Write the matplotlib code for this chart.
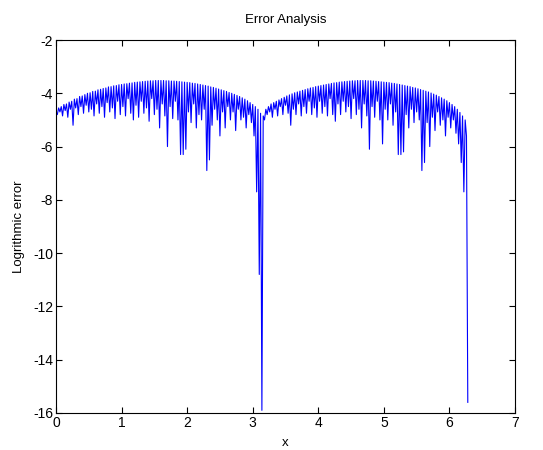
import numpy as np
import matplotlib
matplotlib.use("Agg")
import matplotlib.pyplot as plt

plt.rcParams['font.family'] = ['Liberation Sans', 'DejaVu Sans']

# x positions of the tooth tops (step 0.04) and of the dips between them
x_top = np.round(np.arange(0, 6.2801, 0.04), 2)
x_dip = np.round(np.arange(0.02, 6.2601, 0.04), 2)

top_vals = [
    -4.75, -4.55, -4.5, -4.42, -4.4, -4.33, -4.3, -4.22, -4.2, -4.12,
    -4.1, -4.05, -4.0, -3.98, -3.93, -3.92, -3.87, -3.85, -3.82, -3.8,
    -3.76, -3.75, -3.72, -3.71, -3.68, -3.67, -3.65, -3.64, -3.62, -3.61,
    -3.59, -3.58, -3.57, -3.56, -3.55, -3.54, -3.53, -3.53, -3.52, -3.52,
    -3.52, -3.52, -3.53, -3.53, -3.54, -3.54, -3.55, -3.56, -3.57, -3.58,
    -3.59, -3.6, -3.62, -3.63, -3.65, -3.67, -3.69, -3.71, -3.73, -3.76,
    -3.78, -3.81, -3.84, -3.87, -3.9, -3.93, -3.97, -4.0, -4.04, -4.08,
    -4.12, -4.17, -4.22, -4.28, -4.35, -4.42, -4.5, -4.6, -4.75,
    -4.85, -4.6, -4.5, -4.4, -4.35, -4.3, -4.25, -4.2, -4.15, -4.1,
    -4.06, -4.02, -3.98, -3.95, -3.92, -3.89, -3.86, -3.83, -3.8, -3.78,
    -3.75, -3.73, -3.71, -3.69, -3.67, -3.65, -3.63, -3.61, -3.6, -3.58,
    -3.57, -3.56, -3.55, -3.54, -3.53, -3.53, -3.52, -3.52, -3.52, -3.52,
    -3.53, -3.53, -3.54, -3.55, -3.56, -3.57, -3.58, -3.59, -3.6, -3.62,
    -3.63, -3.65, -3.67, -3.69, -3.71, -3.73, -3.75, -3.78, -3.8, -3.83,
    -3.86, -3.89, -3.92, -3.95, -3.99, -4.03, -4.07, -4.12, -4.17, -4.22,
    -4.28, -4.35, -4.42, -4.5, -4.6, -4.72, -4.85, -5.0, -15.6,
]

dip_vals = [
    -4.8, -4.7, -4.85, -4.65, -4.9, -4.6, -5.2, -4.55, -4.8, -4.5,
    -4.75, -4.45, -4.7, -4.6, -4.85, -4.4, -4.75, -4.5, -4.9, -4.35,
    -4.7, -4.55, -4.95, -4.3, -4.8, -4.5, -4.85, -4.2, -4.75, -5.0,
    -4.45, -4.9, -4.3, -4.75, -4.55, -5.05, -4.2, -4.8, -4.6, -5.3,
    -4.4, -4.85, -6.0, -4.5, -4.95, -4.3, -5.0, -6.3, -6.3, -6.1,
    -4.7, -5.1, -4.4, -5.3, -4.8, -5.0, -4.6, -6.9, -6.5, -5.2,
    -4.6, -5.0, -5.6, -4.7, -5.3, -4.5, -5.0, -4.7, -5.4, -4.6,
    -5.0, -4.9, -5.3, -4.8, -5.1, -5.6, -7.7, -10.8, -15.9,
    -5.0, -4.8, -4.7, -4.9, -4.6, -4.85, -4.5, -4.8, -4.45, -4.75,
    -5.2, -4.6, -4.8, -4.4, -4.85, -4.5, -4.75, -4.3, -4.8, -4.55,
    -4.9, -4.3, -4.75, -4.5, -4.85, -4.2, -4.8, -5.05, -4.4, -4.8,
    -4.3, -4.7, -4.5, -4.95, -4.2, -4.8, -4.6, -5.3, -4.4, -4.85,
    -6.1, -4.5, -4.9, -4.3, -5.0, -5.9, -4.6, -5.0, -4.4, -5.2,
    -4.7, -6.3, -6.3, -6.2, -4.8, -5.3, -4.6, -5.1, -4.7, -5.0,
    -6.9, -6.6, -5.1, -6.0, -4.9, -5.4, -4.7, -5.2, -5.0, -5.6,
    -4.9, -5.3, -5.0, -5.5, -5.9, -6.6, -7.7, -5.6,
]

x_ticks = [0, 1, 2, 3, 4, 5, 6, 7]
y_ticks = [-16, -14, -12, -10, -8, -6, -4, -2]

# interleave tops and dips into one polyline
n = len(dip_vals)
xs = np.empty(len(top_vals) + n)
ys = np.empty(len(top_vals) + n)
xs[0::2] = x_top[:len(top_vals)]
ys[0::2] = top_vals
xs[1::2] = x_dip[:n]
ys[1::2] = dip_vals

fig = plt.figure(figsize=(5.43, 4.5), dpi=100)
ax = fig.add_axes([56/543, 37/450, 459/543, 373/450])
ax.plot(xs, ys, color='#0000ff', linewidth=0.8)
ax.set_xlim(0, 7)
ax.set_ylim(-16, -2)
ax.set_xticks(x_ticks)
ax.set_yticks(y_ticks)
ax.set_xticklabels([str(t) for t in x_ticks])
ax.set_yticklabels([str(t) for t in y_ticks])
ax.tick_params(direction='in', length=4, width=0.8, top=True, right=True,
               labelsize=10, pad=2)
for s in ax.spines.values():
    s.set_linewidth(0.8)
ax.set_title('Error Analysis', fontsize=9.5, pad=12)
ax.set_xlabel('x', fontsize=9.5, labelpad=5)
ax.set_ylabel('Logrithmic error', fontsize=9.5, labelpad=6)
fig.savefig('out.png', dpi=100)
